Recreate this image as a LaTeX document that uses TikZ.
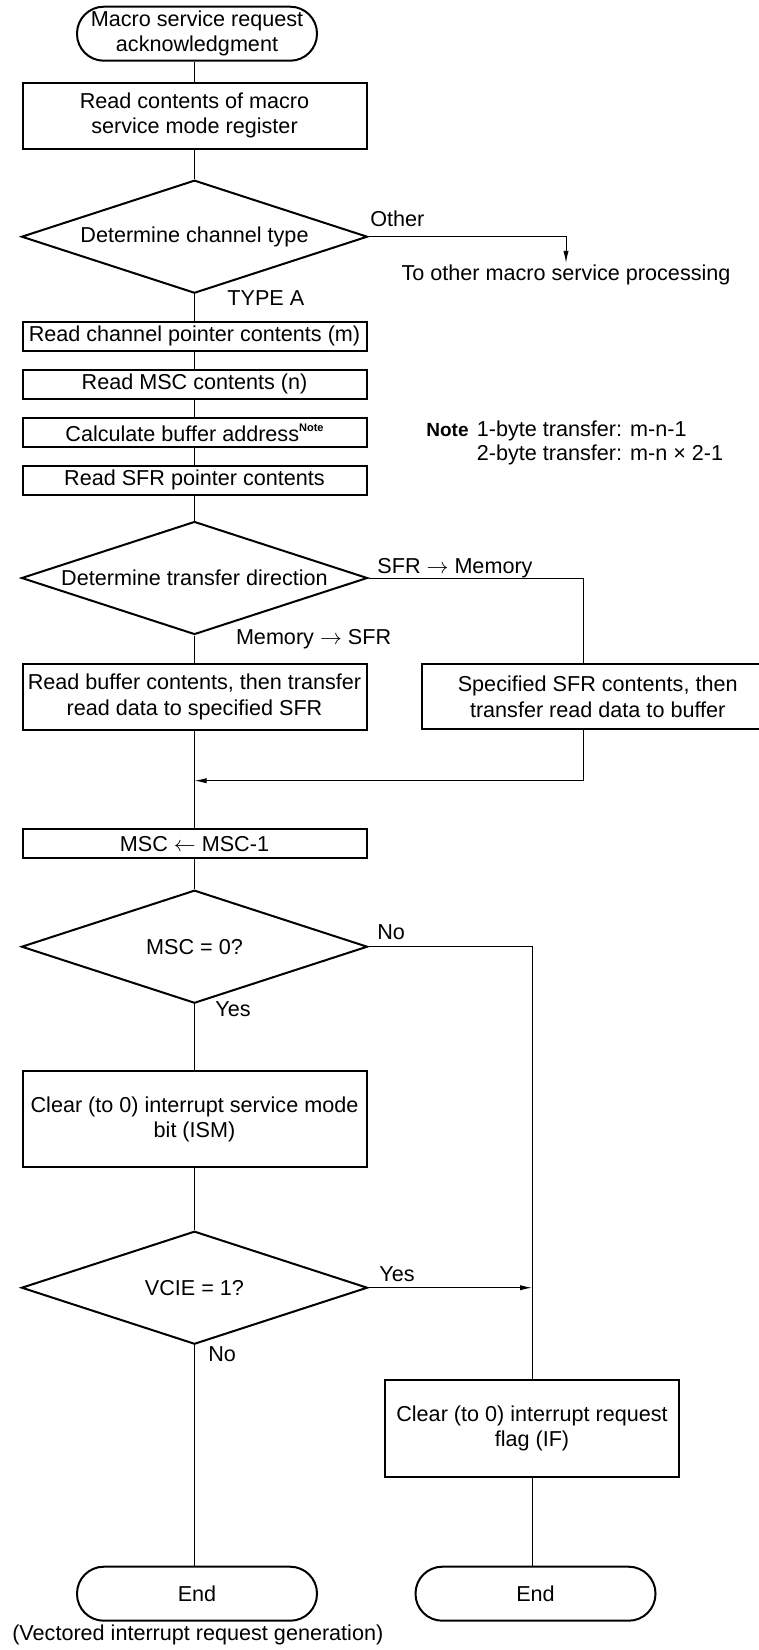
\documentclass[tikz,border=0pt]{standalone}
\usepackage{fontspec}
\setmainfont{Liberation Sans}
\usetikzlibrary{arrows.meta,shapes.geometric}

\begin{document}
\begin{tikzpicture}[x=0.5pt,y=-0.5pt,>={Latex[length=6pt,width=2.6pt]},
  font=\fontsize{10.8}{12.6}\selectfont,
  proc/.style={draw,line width=1pt,minimum width=172pt,inner sep=1pt,align=center},
  term/.style={draw,line width=1pt,rounded corners=13.4pt,minimum width=120pt,minimum height=27pt,inner sep=1pt,align=center},
  dec/.style={diamond,draw,line width=1pt,aspect=3.06,minimum width=173pt,minimum height=56.5pt,inner sep=0pt},
  conn/.style={line width=0.5pt},
  lbl/.style={anchor=base west,inner sep=0pt}]
\useasboundingbox (0,0) rectangle (759,1650);
% main column
\node[term] (start) at (197,33.7) {Macro service request\\acknowledgment};
\node[proc,minimum height=33pt] (modereg) at (194.5,115.7) {Read contents of macro\\service mode register};
\node[dec] (chtype) at (194.5,236.7) {Determine channel type};
\node[proc,minimum height=14.6pt] (chptr) at (194.5,336.3) {Read channel pointer contents (m)};
\node[proc,minimum height=14.3pt] (mscrd) at (194.5,384.2) {Read MSC contents (n)};
\node[proc,minimum height=14.3pt] (bufadr) at (194.5,432.5) {Calculate buffer address\raisebox{.85ex}{\fontsize{5.5}{6}\selectfont\bfseries Note}};
\node[proc,minimum height=14.3pt] (sfrptr) at (194.5,480.2) {Read SFR pointer contents};
\node[dec] (dir) at (194.5,578) {Determine transfer direction};
\node[proc,minimum height=33pt] (memsfr) at (194.5,697) {Read buffer contents, then transfer\\read data to specified SFR};
\node[proc,minimum height=14.5pt] (mscdec) at (194.5,843.8) {MSC $\leftarrow$ MSC-1};
\node[dec] (msczero) at (194.5,946.7) {MSC = 0?};
\node[proc,minimum height=48.3pt] (clrism) at (194.5,1119) {Clear (to 0) interrupt service mode\\bit (ISM)};
\node[dec] (vcie) at (194.5,1287.7) {VCIE = 1?};
\node[term] (endv) at (197,1593.7) {End};
\node[anchor=base,inner sep=0pt] (vecgen) at (197.8,1640) {(Vectored interrupt request generation)};
% right side
\node[anchor=base,inner sep=0.5pt] (toother) at (566,280) {To other macro service processing};
\node[proc,minimum width=176pt,minimum height=32.7pt] (sfrmem) at (597.7,696.7) {Specified SFR contents, then\\transfer read data to buffer};
\node[proc,minimum width=147pt,minimum height=48.3pt] (clrif) at (532,1428.3) {Clear (to 0) interrupt request\\flag (IF)};
\node[term] (endn) at (535.5,1593.7) {End};
% note
\node[lbl,font=\fontsize{9.5}{11}\selectfont\bfseries] (notehd) at (426,436.5) {Note};
\node[lbl] (note1) at (476.5,436.5) {1-byte transfer: m-n-1};
\node[lbl] (note2) at (476.5,460.8) {2-byte transfer: m-n × 2-1};
% branch labels
\node[lbl] (lother) at (370,226.7) {Other};
\node[lbl] (ltypea) at (227,305) {TYPE A};
\node[lbl] (lsfrmem) at (377,573.3) {SFR $\rightarrow$ Memory};
\node[lbl] (lmemsfr) at (235.6,644) {Memory $\rightarrow$ SFR};
\node[lbl] (lno1) at (377,939.3) {No};
\node[lbl] (lyes1) at (215,1016.7) {Yes};
\node[lbl] (lyes2) at (379,1281) {Yes};
\node[lbl] (lno2) at (208,1361.7) {No};
\coordinate (rx) at (583,0);
\coordinate (mrg) at (194.5,780.7);
% connectors
\draw[conn] (start.south -| modereg.north) -- (modereg.north);
\draw[conn] (modereg) -- (chtype);
\draw[conn,->] (chtype.east) -| (toother.north);
\draw[conn] (chtype) -- (chptr);
\draw[conn] (chptr) -- (mscrd);
\draw[conn] (mscrd) -- (bufadr);
\draw[conn] (bufadr) -- (sfrptr);
\draw[conn] (sfrptr) -- (dir);
\draw[conn] (dir) -- (memsfr);
\draw[conn] (dir.east) -| (rx |- sfrmem.north);
\draw[conn] (memsfr) -- (mscdec);
\draw[conn,->] (rx |- sfrmem.south) |- (mrg);
\draw[conn] (mscdec) -- (msczero);
\draw[conn] (msczero.east) -| (clrif.north);
\draw[conn] (msczero) -- (clrism);
\draw[conn] (clrism) -- (vcie);
\draw[conn,->] (vcie.east) -- (vcie.east -| clrif.north);
\draw[conn] (vcie.south) -- (vcie.south |- endv.north);
\draw[conn] (clrif.south) -- (clrif.south |- endn.north);
\end{tikzpicture}
\end{document}
